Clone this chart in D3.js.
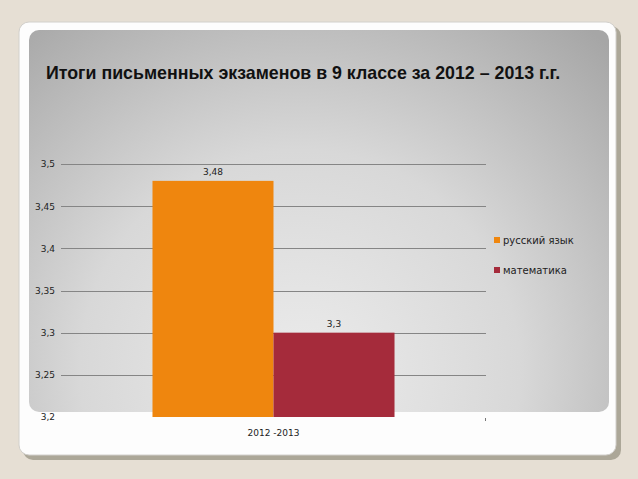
<!DOCTYPE html>
<html>
<head>
<meta charset="utf-8">
<script src="https://cdn.jsdelivr.net/npm/d3@7"></script>
<style>
  body { margin: 0; background: #e6dfd4; }
  svg { display: block; }
</style>
</head>
<body>
<div id="chart"></div>
<script>
// chart data
var categories = ["2012 -2013"];
var seriesNames = ["русский язык", "математика"];
var seriesValues = [[3.48], [3.3]];
var valueLabels = [["3,48"], ["3,3"]];
var tickValues = [3.2, 3.25, 3.3, 3.35, 3.4, 3.45, 3.5];
var tickLabels = ["3,2", "3,25", "3,3", "3,35", "3,4", "3,45", "3,5"];
var colors = ["#ef860e", "#a52b3b"];
var title = "Итоги письменных экзаменов в 9 классе за 2012 – 2013 г.г.";

var w = 638, h = 479;

var svg = d3.select("#chart").append("svg")
    .attr("width", w)
    .attr("height", h);

var defs = svg.append("defs");
var grad = defs.append("radialGradient")
    .attr("id", "bg")
    .attr("gradientUnits", "userSpaceOnUse")
    .attr("cx", 300).attr("cy", 360).attr("r", 440)
    .attr("fx", 300).attr("fy", 380);
grad.append("stop").attr("offset", "0%").attr("stop-color", "#ececec");
grad.append("stop").attr("offset", "50%").attr("stop-color", "#d8d8d8");
grad.append("stop").attr("offset", "100%").attr("stop-color", "#a6a6a6");

// slide frame
svg.append("rect")
    .attr("x", 23).attr("y", 26).attr("width", 598).attr("height", 434)
    .attr("rx", 10).attr("fill", "#aca798");
svg.append("rect")
    .attr("x", 19).attr("y", 22).attr("width", 597).attr("height", 433)
    .attr("rx", 10).attr("fill", "#fdfdfd")
    .attr("stroke", "#d2d0cc").attr("stroke-width", 1);
svg.append("rect")
    .attr("x", 29).attr("y", 30).attr("width", 580).attr("height", 382)
    .attr("rx", 10).attr("fill", "url(#bg)");

svg.append("text")
    .attr("x", 46).attr("y", 79)
    .attr("font-family", "Liberation Sans, Arial, sans-serif")
    .attr("font-weight", "bold")
    .attr("font-size", 17.8)
    .attr("fill", "#111")
    .text(title);

// plot
var plotLeft = 61, plotRight = 486, plotTop = 164, plotBottom = 417;

var y = d3.scaleLinear().domain([3.2, 3.5]).range([plotBottom, plotTop]);
var x0 = d3.scaleBand().domain(categories).range([plotLeft, plotRight]).paddingInner(0).paddingOuter(0.378);
var x1 = d3.scaleBand().domain(d3.range(seriesNames.length)).range([0, x0.bandwidth()]);

var grid = svg.append("g");
grid.selectAll("line")
    .data(tickValues.filter(function(d) { return d > 3.2; }))
    .enter().append("line")
    .attr("x1", plotLeft).attr("x2", plotRight)
    .attr("y1", function(d) { return Math.round(y(d)) + 0.5; })
    .attr("y2", function(d) { return Math.round(y(d)) + 0.5; })
    .attr("stroke", "#858585")
    .attr("stroke-width", 1);

var yAxis = d3.axisLeft(y)
    .tickValues(tickValues)
    .tickFormat(function(d, i) { return tickLabels[i]; })
    .tickSize(0)
    .tickPadding(6);
var ya = svg.append("g").attr("transform", "translate(" + plotLeft + ",0)").call(yAxis);
ya.select(".domain").remove();
ya.selectAll("text")
    .attr("font-family", "DejaVu Sans, Verdana, sans-serif")
    .attr("font-size", 9)
    .attr("fill", "#222");

// bars
var groups = svg.append("g").selectAll("g")
    .data(categories)
    .enter().append("g")
    .attr("transform", function(d) { return "translate(" + x0(d) + ",0)"; });

seriesNames.forEach(function(name, si) {
    groups.append("rect")
        .attr("x", x1(si))
        .attr("width", x1.bandwidth())
        .attr("y", function(d, ci) { return y(seriesValues[si][ci]); })
        .attr("height", function(d, ci) { return plotBottom - y(seriesValues[si][ci]); })
        .attr("fill", colors[si]);
    groups.append("text")
        .attr("x", x1(si) + x1.bandwidth() / 2)
        .attr("y", function(d, ci) { return y(seriesValues[si][ci]) - 6; })
        .attr("text-anchor", "middle")
        .attr("font-family", "DejaVu Sans, Verdana, sans-serif")
        .attr("font-size", 9)
        .attr("fill", "#222")
        .text(function(d, ci) { return valueLabels[si][ci]; });
});

// x axis label and tick
var xa = svg.append("g");
xa.selectAll("text")
    .data(categories)
    .enter().append("text")
    .attr("x", function(d) { return x0(d) + x0.bandwidth() / 2; })
    .attr("y", 436)
    .attr("text-anchor", "middle")
    .attr("font-family", "DejaVu Sans, Verdana, sans-serif")
    .attr("font-size", 9)
    .attr("fill", "#222")
    .text(function(d) { return d; });
xa.append("line")
    .attr("x1", plotRight - 0.5).attr("x2", plotRight - 0.5)
    .attr("y1", 418).attr("y2", 421)
    .attr("stroke", "#777");

// legend
var legend = svg.append("g").selectAll("g")
    .data(seriesNames)
    .enter().append("g")
    .attr("transform", function(d, i) { return "translate(494," + (237 + i * 30) + ")"; });
legend.append("rect")
    .attr("width", 6).attr("height", 6)
    .attr("fill", function(d, i) { return colors[i]; });
legend.append("text")
    .attr("x", 9).attr("y", 7)
    .attr("font-family", "DejaVu Sans, Verdana, sans-serif")
    .attr("font-size", 10)
    .attr("fill", "#222")
    .text(function(d) { return d; });
</script>
</body>
</html>
